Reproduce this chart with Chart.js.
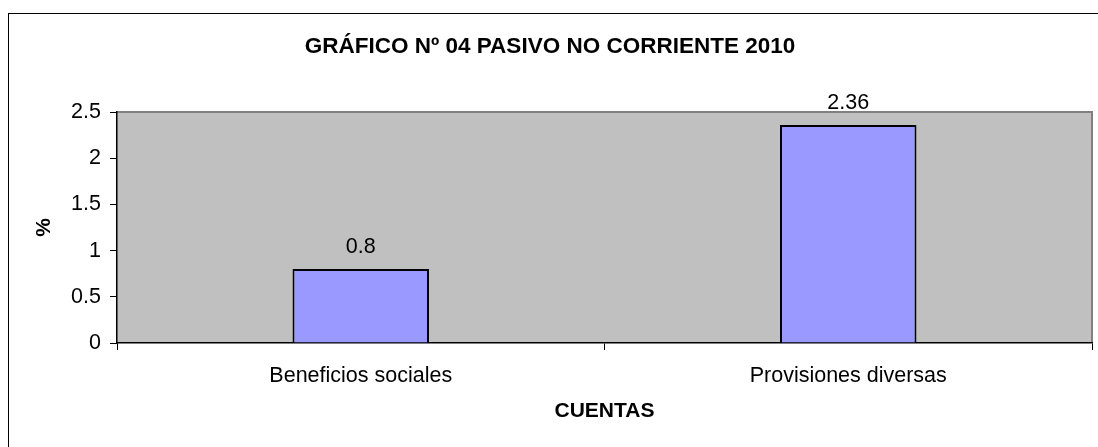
<!DOCTYPE html>
<html>
<head>
<meta charset="utf-8">
<script src="https://cdn.jsdelivr.net/npm/chart.js@4.4.1/dist/chart.umd.min.js"></script>
<style>
  html, body { margin: 0; padding: 0; background: #fff; }
  #wrap { width: 1098px; height: 447px; }
</style>
</head>
<body>
<div id="wrap"><canvas id="pasivoChart"></canvas></div>
<script>
const categories = ['Beneficios sociales', 'Provisiones diversas'];
const values = [0.8, 2.36];
const valueLabels = ['0.8', '2.36'];
const yTickLabels = ['0', '0.5', '1', '1.5', '2', '2.5'];

const FONT = '"Liberation Sans", Arial, sans-serif';

// gray plot area + outer frame, like the Excel original
const plotBackground = {
  id: 'plotBackground',
  beforeDraw(chart) {
    const { ctx, chartArea: a } = chart;
    ctx.save();
    ctx.strokeStyle = '#000';
    ctx.lineWidth = 1;
    ctx.strokeRect(8.5, 13.5, 1200, 600);
    ctx.fillStyle = '#C0C0C0';
    ctx.fillRect(a.left, a.top, a.right - a.left, a.bottom - a.top);
    ctx.strokeStyle = '#808080';
    ctx.lineWidth = 2;
    ctx.beginPath();
    ctx.moveTo(a.left, a.top);
    ctx.lineTo(a.right, a.top);
    ctx.lineTo(a.right, a.bottom);
    ctx.stroke();
    ctx.restore();
  }
};

const valueLabelPlugin = {
  id: 'valueLabels',
  afterDatasetsDraw(chart) {
    const { ctx } = chart;
    const meta = chart.getDatasetMeta(0);
    ctx.save();
    ctx.font = '21.5px ' + FONT;
    ctx.fillStyle = '#000';
    ctx.textAlign = 'center';
    ctx.textBaseline = 'middle';
    meta.data.forEach((bar, i) => {
      ctx.fillText(valueLabels[i], bar.x, bar.y - 22);
    });
    ctx.restore();
  }
};

const ctx = document.getElementById('pasivoChart').getContext('2d');
new Chart(ctx, {
  type: 'bar',
  data: {
    labels: categories,
    datasets: [{
      label: 'Pasivo no corriente',
      data: values,
      backgroundColor: '#9999FF',
      borderColor: '#000',
      borderWidth: 2,
      categoryPercentage: 1,
      barPercentage: 0.28
    }]
  },
  options: {
    responsive: true,
    maintainAspectRatio: false,
    animation: false,
    layout: { padding: { left: 8, right: 6, top: 0, bottom: 0 } },
    plugins: {
      legend: { display: false },
      tooltip: { enabled: false },
      title: {
        display: true,
        text: 'GRÁFICO Nº 04 PASIVO NO CORRIENTE 2010',
        color: '#000',
        font: { family: FONT, size: 22.5, weight: 'bold' },
        padding: { top: 33.5, bottom: 51.5 }
      }
    },
    scales: {
      x: {
        afterFit(scale) { scale.height = 104; },
        border: { color: '#000', width: 1.5 },
        grid: { display: true, drawOnChartArea: false, drawTicks: true, tickLength: 7, color: '#000' },
        ticks: { color: '#000', padding: 13, font: { family: FONT, size: 21.5 } },
        title: {
          display: true,
          text: 'CUENTAS',
          color: '#000',
          font: { family: FONT, size: 21, weight: 'bold' },
          padding: { top: 0, bottom: 23 }
        }
      },
      y: {
        min: 0,
        max: 2.5,
        afterFit(scale) { scale.width = 109; },
        border: { color: '#000', width: 1.5 },
        grid: { display: true, drawOnChartArea: false, drawTicks: true, tickLength: 7, color: '#000' },
        ticks: {
          stepSize: 0.5,
          color: '#000',
          padding: 9,
          font: { family: FONT, size: 21.5 },
          callback: (v, i) => yTickLabels[i]
        },
        title: {
          display: true,
          text: '%',
          color: '#000',
          font: { family: FONT, size: 21, weight: 'bold' },
          padding: { top: 24, bottom: 0 }
        }
      }
    }
  },
  plugins: [plotBackground, valueLabelPlugin]
});
</script>
</body>
</html>
